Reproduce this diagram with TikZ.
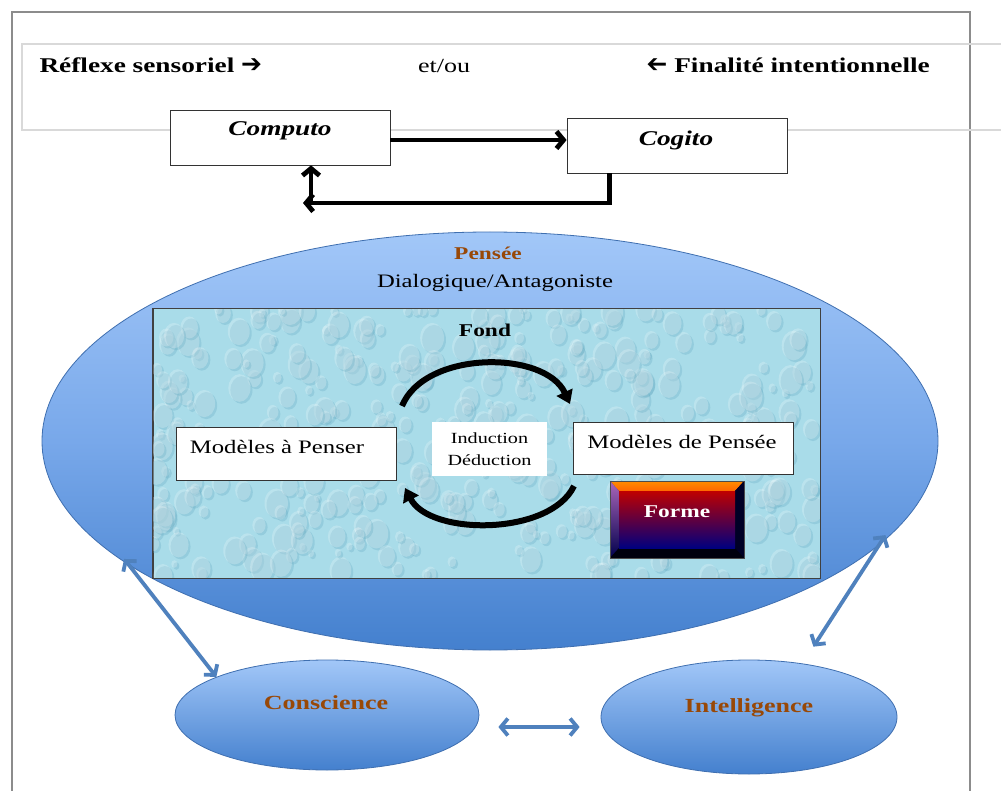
\documentclass[tikz,border=0pt]{standalone}
\usepackage{fontspec}
\setmainfont[FakeStretch=1.3]{Liberation Serif}
\newfontfamily\arrowfont{DejaVu Sans}
\usepackage{graphicx}
\usetikzlibrary{arrows.meta,shapes.geometric,calc}
\definecolor{brownt}{HTML}{984807}
\definecolor{arrowblue}{HTML}{4F81BD}
\definecolor{ellborder}{HTML}{3F6FB0}
\definecolor{elltop}{HTML}{A2C7F8}
\definecolor{ellmid}{HTML}{78A8EA}
\definecolor{ellbot}{HTML}{4480CE}
\definecolor{fondc}{HTML}{A9DCE9}
\definecolor{dropdark}{HTML}{5FA6BE}
\newcommand{\bigarrowglyph}{{\arrowfont\bfseries\fontsize{25}{25}\selectfont ➔}}
\tikzset{
  whitebox/.style={draw=black!80, line width=0.8pt, fill=white, inner sep=0pt},
  blackarrow/.style={draw=black, line width=4.8pt, -{Straight Barb[length=7pt,width=17pt]}},
  curvearrow/.style={draw=black, line width=6pt, -{Triangle[length=13pt,width=17pt]}},
  bluearrow/.style={draw=arrowblue, line width=3.8pt, {Straight Barb[length=7pt,width=17pt]}-{Straight Barb[length=7pt,width=17pt]}},
  bigell/.style={ellipse, draw=ellborder, line width=0.8pt, top color=elltop, bottom color=ellbot, inner sep=0pt},
  hdr/.style={font=\bfseries\fontsize{21}{25}\selectfont, anchor=west},
  lbl/.style={font=\fontsize{19}{23}\selectfont},
}
\begin{document}
\begin{tikzpicture}[x=1pt,y=-1pt]
\useasboundingbox (0,0) rectangle (1001,791);
\fill[white] (0,0) rectangle (1001,791);
% frame and header band
\draw[black!45, line width=1.2pt] (12,795) -- (12,12) -- (970,12) -- (970,795);
\draw[black!15, line width=1.2pt] (1005,44) -- (22,44) -- (22,130) -- (1005,130);
\node[hdr] (reflexe) at (36,65) {Réflexe sensoriel \bigarrowglyph};
\node[font=\fontsize{20}{24}\selectfont] (etou) at (444,66) {et/ou};
\node[hdr] (finalite) at (643,65) {\reflectbox{\bigarrowglyph} Finalité intentionnelle};
% Computo / Cogito
\node[whitebox, minimum width=220pt, minimum height=55pt] (computo) at (280,137.5) {};
\node[font=\bfseries\itshape\fontsize{21}{25}\selectfont] (computotxt) at (280,131) {Computo};
\node[whitebox, minimum width=220pt, minimum height=55pt] (cogito) at (677,145.5) {};
\node[font=\bfseries\itshape\fontsize{21}{25}\selectfont] (cogitotxt) at (676,140) {Cogito};
\coordinate (c1) at ([yshift=-2.5pt]computo.east);
\draw[blackarrow] (c1) -- (c1 -| cogito.west);
\coordinate (retA) at ([xshift=43pt]cogito.south west);
\coordinate (retL) at (303,203);
\draw[blackarrow] (retA) |- (retL);
\coordinate (retU) at (311,205);
\draw[blackarrow] (retU) -- (retU |- computo.south);
% Pensee
\node[bigell, middle color=ellmid, minimum width=896pt, minimum height=418pt] (pensee) at (490,441) {};
\node[font=\bfseries\fontsize{18}{22}\selectfont, text=brownt] (pensetxt) at (488,253) {Pensée};
\node[lbl] (dialog) at (495,283) {Dialogique/Antagoniste};
% Fond
\node[draw=black!75, line width=1pt, fill=fondc, minimum width=667pt, minimum height=269pt, inner sep=0pt] (fond) at (486.5,443.5) {};
\begin{scope}
  \clip (fond.south west) rectangle (fond.north east);
  \pgfmathsetseed{11}
  \foreach \i in {1,...,420}{
    \pgfmathsetmacro\px{153+667*rnd}
    \pgfmathsetmacro\py{309+269*rnd}
    \pgfmathsetmacro\r{3+9*rnd}
    \pgfmathsetmacro\rr{\r*1.25}
    \fill[dropdark, opacity=0.28] (\px+1.5,\py+1.5) ellipse [x radius=\r pt, y radius=\rr pt];
    \fill[white, opacity=0.22] (\px-0.5,\py-0.5) ellipse [x radius=\r pt, y radius=\rr pt];
  }
\end{scope}
\draw[black!75, line width=1pt] (fond.south west) rectangle (fond.north east);
\node[font=\bfseries\fontsize{18}{22}\selectfont] (fondtxt) at (485,330) {Fond};
% inner boxes
\node[whitebox, minimum width=220pt, minimum height=53pt] (mape) at (286,453.5) {};
\node[lbl] (mapetxt) at (277,447) {Modèles à Penser};
\node[whitebox, minimum width=220pt, minimum height=52pt] (mdp) at (683,448) {};
\node[lbl] (mdptxt) at (682,442) {Modèles de Pensée};
\node[draw=none, fill=white, minimum width=115pt, minimum height=54pt, inner sep=0pt, align=center, font=\fontsize{15.5}{22}\selectfont] (ind) at (489.5,449) {Induction\\Déduction};
% cycle arrows
\coordinate (a1s) at (402,406);
\coordinate (a1e) at (570,404);
\draw[curvearrow] (a1s) .. controls (425,350) and (545,350) .. (a1e);
\coordinate (a2s) at (574,486);
\coordinate (a2e) at (405,488);
\draw[curvearrow] (a2s) .. controls (550,536) and (430,536) .. (a2e);
% Forme bevel button
\node[minimum width=134pt, minimum height=77pt, inner sep=0pt] (forme) at (677,519.5) {};
\fill[black!80!blue] (610,481) rectangle (744,558);
\shade[top color=orange!90!yellow, bottom color=orange!80!red] (610,481) -- (744,481) -- (735,491) -- (619,491) -- cycle;
\shade[top color=red!45!blue!60!white, bottom color=blue!30!black] (610,481) -- (619,491) -- (619,548) -- (610,558) -- cycle;
\fill[black!85!blue] (744,481) -- (735,491) -- (735,548) -- (744,558) -- cycle;
\fill[black!95!blue] (610,558) -- (744,558) -- (735,548) -- (619,548) -- cycle;
\shade[top color=red!75!black, middle color=purple!45!black, bottom color=blue!50!black] (619,491) rectangle (735,548);
\draw[black!70, line width=0.6pt] (610,481) rectangle (744,558);
\node[font=\bfseries\fontsize{18}{22}\selectfont, text=white] (formetxt) at (677,512) {Forme};
% lower ellipses
\node[bigell, minimum width=304pt, minimum height=110pt] (conscience) at (327,715) {};
\node[font=\bfseries\fontsize{20}{24}\selectfont, text=brownt] (constxt) at (326,703) {Conscience};
\node[bigell, minimum width=296pt, minimum height=114pt] (intel) at (749,717) {};
\node[font=\bfseries\fontsize{20}{24}\selectfont, text=brownt] (inteltxt) at (749,708) {Intelligence};
% blue arrows
\draw[bluearrow, shorten <=-8pt] (pensee.199) -- (conscience.161);
\draw[bluearrow, shorten <=-12pt, shorten >=20pt] (pensee.345) -- (intel.45);
\draw[bluearrow, shorten <=19pt, shorten >=21pt] ([yshift=-12pt]conscience.east) -- ([yshift=-10pt]intel.west);
\end{tikzpicture}
\end{document}
